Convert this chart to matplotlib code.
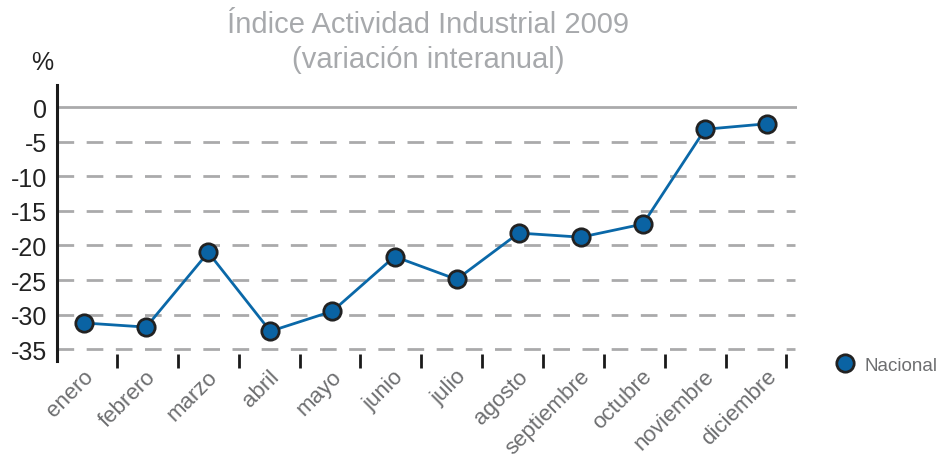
import numpy as np
import matplotlib
matplotlib.use('Agg')
import matplotlib.pyplot as plt
from matplotlib.lines import Line2D

plt.rcParams['font.family'] = ['Liberation Sans', 'DejaVu Sans']

meses = ['enero', 'febrero', 'marzo', 'abril', 'mayo', 'junio', 'julio',
         'agosto', 'septiembre', 'octubre', 'noviembre', 'diciembre']
nacional = [-31.2, -31.8, -21.0, -32.4, -29.5, -21.6, -24.9, -18.2, -18.8, -16.9, -3.2, -2.4]
yticks = [0, -5, -10, -15, -20, -25, -30, -35]

fig = plt.figure(figsize=(9.43, 4.6), dpi=100)
ax = fig.add_axes([57 / 943, 98 / 460, 740 / 943, 276 / 460])

x = np.arange(len(meses))
ax.set_xlim(-0.435, 11.48)
ax.set_ylim(-36.7, 3.2)

# grid
for v in yticks:
    if v == 0:
        ax.axhline(v, color='#aaaaab', lw=2, zorder=1)
    else:
        ax.axhline(v, xmax=0.997, color='#aaaaab', lw=2, ls=(0, (6, 4.5)), zorder=1)

ax.plot(x, nacional, color='#0a68a8', lw=2, marker='o', ms=12.5,
        mfc='#0a63a3', mec='#222222', mew=2, zorder=3)

for s in ['top', 'right', 'bottom']:
    ax.spines[s].set_visible(False)
ax.spines['left'].set_linewidth(2.2)
ax.spines['left'].set_color('#1a1a1a')

ax.set_yticks(yticks)
ax.set_yticklabels([str(v) for v in yticks], fontsize=18, color='#222222')
ax.tick_params(axis='y', length=0, pad=7)

ax.set_xticks(np.arange(12) * 0.98 + 0.53)
ax.set_xticklabels([])
ax.tick_params(axis='x', direction='inout', length=10, width=2, color='#1a1a1a')

for xi, m in zip(x, meses):
    ax.annotate(m, xy=(xi, 0), xycoords=('data', 'axes fraction'),
                xytext=(6, -12), textcoords='offset pixels',
                rotation=45, rotation_mode='anchor', ha='right', va='center',
                fontsize=16, color='#6d6e70')

fig.text(428 / 943, 1 - 25 / 460, 'Índice Actividad Industrial 2009',
         ha='center', va='center', fontsize=21, color='#a7a9ac')
fig.text(428 / 943, 1 - 60 / 460, '(variación interanual)',
         ha='center', va='center', fontsize=21, color='#a7a9ac')
fig.text(42 / 943, 1 - 63 / 460, '%', ha='center', va='center',
         fontsize=18, color='#222222')

handle = Line2D([], [], ls='none', marker='o', ms=12.5, mfc='#0a63a3',
                mec='#222222', mew=2)
fig.legend([handle], ['Nacional'], loc='center left',
           bbox_to_anchor=(836 / 943, 1 - 366 / 460), frameon=False,
           fontsize=13.5, labelcolor='#6d6e70', handlelength=1.0,
           handletextpad=0.5, borderaxespad=0, borderpad=0)

fig.savefig('out.png', dpi=100)
